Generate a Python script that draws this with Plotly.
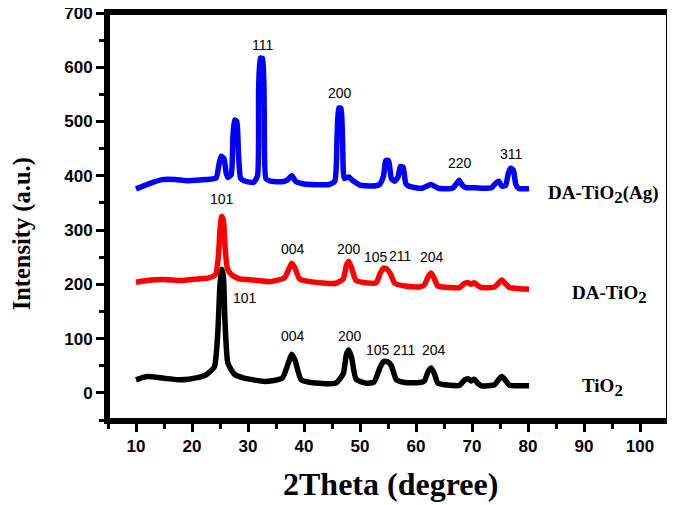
import plotly.graph_objects as go

# ---- data ----
ag_x = [10.0, 11.5, 13.0, 14.7, 17.0, 19.0, 22.5, 24.3, 24.8, 25.2, 25.7, 26.1, 26.4, 27.0, 27.3, 27.6, 28.0, 28.3, 28.7,
        29.5, 31.0, 31.7, 31.9, 32.2, 32.6, 32.9, 33.2, 34.0, 36.0, 37.0, 37.8, 38.5, 40.0, 44.5, 45.5, 45.9, 46.2, 46.6,
        46.9, 47.2, 48.0, 48.5, 50.0, 52.0, 53.5, 54.2, 54.6, 55.1, 55.6, 56.2, 56.8, 57.2, 57.7, 58.2, 59.0, 61.0, 62.7,
        64.0, 66.5, 67.2, 67.7, 68.3, 69.0, 70.5, 72.0, 73.5, 74.3, 74.8, 75.3, 76.0, 76.5, 76.9, 77.4, 77.8, 78.3, 80.2]
ag_y = [376, 382, 388, 393, 393, 391, 393, 396, 420, 436, 432, 405, 397, 402, 470, 503, 500, 440, 395,
        390, 388, 400, 560, 617, 616, 520, 395, 390, 389, 392, 400, 390, 385, 384, 390, 470, 525, 524,
        460, 395, 398, 393, 383, 381, 384, 400, 428, 428, 395, 390, 398, 417, 416, 385, 380, 377, 384,
        377, 377, 385, 392, 382, 378, 378, 377, 378, 387, 390, 381, 382, 405, 414, 410, 385, 377, 376]

da_x = [10, 12, 15, 18, 21, 23, 24.2, 24.7, 25.0, 25.3, 25.6, 25.9, 26.3, 27, 28.5, 31, 34, 36.5, 37.3, 37.8, 38.4,
        39.2, 41, 45.7, 47.0, 47.6, 48.0, 48.5, 49.3, 51, 52.9, 53.6, 54.2, 54.8, 55.5, 56.2, 58, 60.6, 61.5, 62.2,
        62.7, 63.2, 63.9, 66, 67.8, 68.7, 69.3, 69.8, 70.4, 71.0, 71.7, 74, 74.8, 75.3, 75.9, 76.7, 78.5, 80.2]
da_y = [204, 207, 209, 207, 210, 212, 218, 250, 300, 325, 318, 270, 230, 218, 210, 208, 205, 212, 228, 239, 230,
        210, 205, 202, 210, 236, 242, 230, 207, 203, 203, 220, 230, 228, 218, 202, 197, 195, 199, 215,
        221, 212, 197, 194, 194, 202, 203, 200, 203, 198, 194, 195, 203, 208, 202, 194, 192, 191]

ti_x = [10, 12, 15, 18, 21, 22.5, 24, 24.6, 25.0, 25.3, 25.6, 25.9, 26.4, 27.5, 29, 33, 36.1, 37.2, 37.8, 38.4,
        39.5, 42, 45.7, 47.0, 47.6, 48.0, 48.5, 49.3, 51, 52.5, 53.5, 54.2, 55.0, 55.6, 56.5, 58, 60.6, 61.5,
        62.2, 62.7, 63.3, 63.9, 66, 67.8, 68.7, 69.3, 69.8, 70.4, 71.0, 71.7, 74, 74.8, 75.3, 75.9, 76.7, 78.5, 80.2]
ti_y = [24, 30, 27, 24, 28, 33, 48, 110, 200, 228, 215, 130, 55, 35, 28, 21, 27, 55, 71, 60,
        24, 18, 18, 35, 72, 79, 65, 25, 18, 20, 45, 58, 57, 50, 24, 19, 19, 22,
        40, 46, 35, 18, 14, 14, 24, 26, 22, 25, 18, 13, 15, 25, 30, 24, 14, 13, 13]

# peak labels: (text, x, y)
peak_labels = [
    ("111", 32.5, 641), ("200", 46.4, 552), ("220", 67.8, 424), ("311", 77.0, 441),
    ("101", 25.3, 357), ("004", 38.1, 266), ("200", 48.1, 266), ("105", 52.8, 251), ("211", 57.2, 252), ("204", 62.9, 250),
    ("101", 29.5, 174), ("004", 38.1, 104), ("200", 48.2, 105), ("105", 53.3, 79), ("211", 57.9, 79), ("204", 63.3, 79),
]
SUB2 = "<sub><span style='font-size:17px'>2</span></sub>"
series_labels = [
    ("DA-TiO" + SUB2 + "(Ag)", 83.3, 366),
    ("DA-TiO" + SUB2, 87.5, 181),
    ("TiO" + SUB2, 89.2, 10),
]
x_title = "2Theta (degree)"
y_title = "Intensity (a.u.)"

fig = go.Figure()
for xs, ys, col in [(ag_x, ag_y, "#0000ff"), (da_x, da_y, "#ff0000"), (ti_x, ti_y, "#000000")]:
    fig.add_trace(go.Scatter(x=xs, y=ys, mode="lines",
                             line=dict(color=col, width=5.5, shape="spline", smoothing=0.5)))

for t, x, y in peak_labels:
    fig.add_annotation(x=x, y=y, text=t, showarrow=False,
                       font=dict(family="Liberation Sans, Arial", size=14, color="black"))
for t, x, y in series_labels:
    fig.add_annotation(x=x, y=y, text=t, showarrow=False, xanchor="left", yanchor="middle",
                       font=dict(family="Liberation Serif, Times New Roman", size=19, color="black", weight="bold"))

titlefont = dict(family="Liberation Serif, Times New Roman", size=32, color="black", weight="bold")
fig.add_annotation(xref="paper", yref="paper", x=0.505, y=-0.157, yanchor="middle", text=x_title,
                   showarrow=False, font=titlefont)
fig.add_annotation(xref="paper", yref="paper", x=-0.153, y=0.457, xanchor="center", yanchor="middle",
                   text=y_title, textangle=-90, showarrow=False, font=dict(titlefont, size=24.5))

# frame
fig.add_shape(type="rect", xref="paper", yref="paper", x0=0, y0=0, x1=1, y1=1,
              line=dict(color="black", width=4), fillcolor="rgba(0,0,0,0)", layer="above")

tickfont = dict(family="Liberation Sans, Arial", size=17, color="black", weight="bold")
fig.update_xaxes(range=[5, 105], tick0=10, dtick=10, ticks="outside", ticklen=8, tickwidth=3,
                 minor=dict(dtick=5, ticks="outside", ticklen=5, tickwidth=3, tickcolor="black"),
                 showline=True, linewidth=4, linecolor="black", mirror=True, showgrid=False, zeroline=False,
                 tickfont=tickfont, tickcolor="black", automargin=False, ticklabeloverflow="allow")
fig.update_yaxes(range=[-50, 700], tick0=0, dtick=100, ticks="outside", ticklen=8, tickwidth=3,
                 minor=dict(dtick=50, ticks="outside", ticklen=5, tickwidth=3, tickcolor="black"),
                 showline=True, linewidth=4, linecolor="black", mirror=True, showgrid=False, zeroline=False,
                 tickfont=tickfont, tickcolor="black", automargin=False, ticklabeloverflow="allow")
# the page body adds an 8px offset, so the figure is 8px smaller than the window
fig.update_layout(width=667, height=497, margin=dict(l=100, r=7, t=5, b=85, autoexpand=False),
                  plot_bgcolor="white", paper_bgcolor="white", showlegend=False)
fig.write_html("out.html")
